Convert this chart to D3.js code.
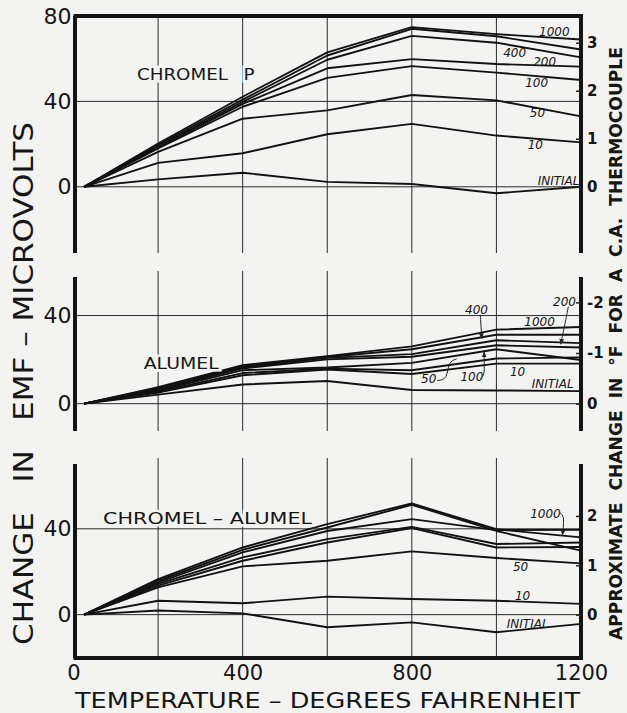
<!DOCTYPE html>
<meta charset="utf-8" />
<style>
  body { margin: 0; background: #f3f3f1; }
  svg { display: block; }
  text { font-family: "DejaVu Sans", Arial, sans-serif; fill: #161616; }
  .grid { stroke: #2b2b2b; stroke-width: 1; }
  .border { stroke: #141414; stroke-width: 4; }
  .curve { fill: none; stroke: #121212; stroke-width: 1.9; stroke-linejoin: round; }
  .tag { font-style: italic; font-size: 12px; }
  .name { font-size: 16px; paint-order: stroke; stroke: #f3f3f1; stroke-width: 5px; }
  .leader { fill: none; stroke: #222; stroke-width: 1; }
  .laxis text { font-size: 22px; }
  .raxis text { font-size: 15px; font-weight: bold; }
  .baxis text { font-size: 21px; }
</style>
<body>
<script src="https://d3js.org/d3.v7.min.js"></script>
<script>
  // temperatures (deg F) where the curves were read
  var temps = [25, 200, 400, 600, 800, 1000, 1200];
  // exposure in hours, one entry per row below (7th curve has no label in the figure)
  var hours = ["INITIAL", "10", "50", "100", "200", "400", "", "1000"];

  // change in emf, microvolts
  var chromelP = [
    [0, 3.5, 6.6, 2.3, 1.3, -3.0, 0.0],
    [0, 11.2, 15.7, 24.6, 29.5, 24.0, 20.8],
    [0, 16.4, 31.9, 35.8, 43.0, 40.5, 33.0],
    [0, 18.0, 37.5, 51.0, 56.5, 53.5, 50.0],
    [0, 18.5, 38.8, 55.5, 59.8, 57.5, 56.3],
    [0, 19.0, 39.8, 59.5, 70.7, 67.5, 60.6],
    [0, 19.6, 40.8, 61.5, 74.0, 70.5, 64.3],
    [0, 20.3, 42.2, 63.0, 74.8, 71.5, 69.0]
  ];
  var alumel = [
    [0, 4.1, 8.7, 10.3, 6.2, 6.0, 5.7],
    [0, 5.0, 12.9, 15.5, 13.5, 18.2, 18.2],
    [0, 5.4, 13.9, 15.9, 15.2, 20.5, 21.0],
    [0, 5.8, 15.2, 16.4, 18.5, 24.7, 19.8],
    [0, 6.3, 16.0, 20.1, 21.3, 26.5, 25.5],
    [0, 6.8, 16.4, 20.8, 22.5, 28.8, 27.5],
    [0, 7.2, 17.0, 21.2, 24.7, 31.3, 31.3],
    [0, 7.5, 17.5, 21.6, 26.0, 33.6, 34.8]
  ];
  var chromelAlumel = [
    [0, 1.9, 0.6, -5.9, -3.6, -8.2, -4.3],
    [0, 6.5, 5.3, 8.4, 7.3, 6.5, 5.0],
    [0, 12.7, 22.5, 25.1, 29.5, 26.4, 23.9],
    [0, 13.5, 25.1, 33.6, 40.3, 31.3, 31.5],
    [0, 14.3, 26.7, 35.2, 40.9, 32.9, 33.6],
    [0, 15.0, 29.0, 39.0, 44.5, 39.4, 39.5],
    [0, 15.8, 30.2, 40.6, 51.2, 39.0, 29.8],
    [0, 16.6, 31.3, 42.2, 51.8, 39.8, 36.0]
  ];

  var xTicks = [0, 400, 800, 1200];
  var gridTemps = [200, 400, 600, 800, 1000];

  var W = 627, H = 713, bg = "#f3f3f1";
  var svg = d3.select("body").append("svg").attr("width", W).attr("height", H);
  svg.append("rect").attr("width", W).attr("height", H).attr("fill", bg);

  var defs = svg.append("defs");
  defs.append("marker").attr("id", "arrow")
    .attr("viewBox", "0 0 10 10").attr("refX", 9).attr("refY", 5)
    .attr("markerWidth", 6).attr("markerHeight", 6).attr("orient", "auto")
    .append("path").attr("d", "M0,1 L10,5 L0,9 z").attr("fill", "#222");

  var x = d3.scaleLinear().domain([0, 1200]).range([73.5, 581]);

  var panels = [
    { rows: chromelP, y: d3.scaleLinear().domain([-31, 80]).range([253, 16]),
      left: [0, 40, 80], right: [0, 1, 2, 3], perF: 22.5 },
    { rows: alumel, y: d3.scaleLinear().domain([-12.4, 57.5]).range([431, 277]),
      left: [0, 40], right: [0, -1, -2], perF: -23 },
    { rows: chromelAlumel, y: d3.scaleLinear().domain([-20.2, 70.2]).range([658, 464]),
      left: [0, 40], right: [0, 1, 2], perF: 23 }
  ];

  panels.forEach(function (p, k) {
    var y = p.y, g = svg.append("g");
    var top = y.range()[1], bottom = y.range()[0];

    // vertical grid, reaching a little above the lower panels
    g.selectAll(".vg").data(gridTemps).enter().append("line")
      .attr("class", "grid")
      .attr("x1", d => x(d)).attr("x2", d => x(d))
      .attr("y1", k === 0 ? top : top - 6).attr("y2", bottom);

    // horizontal grid at 0 and 40
    g.selectAll(".hg").data([0, 40]).enter().append("line")
      .attr("class", "grid")
      .attr("x1", x(0)).attr("x2", x(1200))
      .attr("y1", d => y(d)).attr("y2", d => y(d));

    var line = d3.line().x((d, i) => x(temps[i])).y(d => y(d));
    g.selectAll(".curve").data(p.rows).enter().append("path")
      .attr("class", "curve").attr("d", line);

    // heavy frame pieces
    g.append("line").attr("class", "border")
      .attr("x1", x(0) + 1.5).attr("x2", x(0) + 1.5).attr("y1", top).attr("y2", bottom);
    g.append("line").attr("class", "border")
      .attr("x1", x(1200)).attr("x2", x(1200)).attr("y1", top).attr("y2", bottom);
    if (k === 0) {
      g.append("line").attr("class", "border")
        .attr("x1", x(0)).attr("x2", x(1200) + 2).attr("y1", y(80)).attr("y2", y(80));
    }
    if (k === 2) {
      g.append("line").attr("class", "border")
        .attr("x1", x(0)).attr("x2", x(1200) + 2).attr("y1", bottom).attr("y2", bottom);
    }

    // left microvolt labels
    g.append("g").attr("class", "laxis")
      .attr("transform", "translate(" + x(0) + ",0)")
      .call(d3.axisLeft(y).tickValues(p.left).tickSize(0).tickPadding(2))
      .call(a => a.select(".domain").remove());

    // right deg F labels
    var yF = d3.scaleLinear()
      .domain(y.domain().map(v => v / p.perF)).range(y.range());
    g.append("g").attr("class", "raxis")
      .attr("transform", "translate(" + x(1200) + ",0)")
      .call(d3.axisRight(yF).tickValues(p.right).tickSize(-5).tickPadding(6)
        .tickFormat(d => String(d)))
      .call(a => a.select(".domain").remove())
      .call(a => a.selectAll("line").attr("stroke", "#222").attr("stroke-width", 1.5));
  });

  // bottom temperature labels
  var p3 = panels[2];
  svg.append("g").attr("class", "baxis")
    .attr("transform", "translate(0," + p3.y.range()[0] + ")")
    .call(d3.axisBottom(x).tickValues(xTicks).tickSize(0).tickPadding(7)
      .tickFormat(d => String(d)))
    .call(a => a.select(".domain").remove());

  // panel names
  function name(p, label, t, v, len) {
    svg.append("text").attr("class", "name")
      .attr("x", x(t)).attr("y", p.y(v)).attr("dy", "0.36em")
      .attr("textLength", len).attr("lengthAdjust", "spacingAndGlyphs")
      .text(label);
  }
  name(panels[0], "CHROMEL", 150, 52.8, 91);
  name(panels[0], "P", 402, 52.8, 11);
  name(panels[1], "ALUMEL", 166, 18.5, 75);
  name(panels[2], "CHROMEL \u2013 ALUMEL", 70, 44.7, 209);

  // curve tags, in data units of each panel
  var tags = [
    [0, "1000", 1137, 72.5], [0, "400", 1043, 63], [0, "200", 1114, 58.5],
    [0, "100", 1095, 48.9], [0, "50", 1097, 34.8], [0, "10", 1092, 19.6],
    [0, "INITIAL", 1147, 2.7],
    [1, "400", 953, 42.8], [1, "1000", 1102, 37.2], [1, "200", 1161, 46.4],
    [1, "50", 840, 11.5], [1, "100", 942, 12.4], [1, "10", 1050, 14.3],
    [1, "INITIAL", 1133, 9.2],
    [2, "1000", 1116, 47], [2, "50", 1057, 22.3], [2, "10", 1062, 8.8],
    [2, "INITIAL", 1074, -4.2]
  ];
  svg.selectAll(".tag").data(tags).enter().append("text")
    .attr("class", "tag").attr("text-anchor", "middle").attr("dy", "0.36em")
    .attr("x", d => x(d[2])).attr("y", d => panels[d[0]].y(d[3]))
    .text(d => d[1]);

  // leaders from tags to their curves
  var leaders = [
    [1, [[962, 40.3], [964, 34], [965, 29.5]], true],
    [1, [[1170, 44], [1164, 38], [1152, 27]], true],
    [1, [[860, 10.5], [884, 11], [886, 19], [906, 20.3]], false],
    [1, [[962, 11.5], [972, 13], [971, 19], [971, 23.5]], true],
    [2, [[1150, 47.5], [1160, 46], [1158, 40], [1156, 37]], true]
  ];
  leaders.forEach(function (l) {
    var y = panels[l[0]].y;
    svg.append("path").attr("class", "leader")
      .attr("d", d3.line().curve(d3.curveBasis).x(d => x(d[0])).y(d => y(d[1]))(l[1]))
      .attr("marker-end", l[2] ? "url(#arrow)" : null);
  });

  // axis titles
  svg.append("text")
    .attr("x", 75).attr("y", 708)
    .attr("font-size", 22)
    .attr("textLength", 505).attr("lengthAdjust", "spacingAndGlyphs")
    .text("TEMPERATURE \u2013 DEGREES  FAHRENHEIT");

  svg.append("text")
    .attr("transform", "translate(33,645) rotate(-90)")
    .attr("font-size", 27).style("white-space", "pre")
    .attr("textLength", 523).attr("lengthAdjust", "spacingAndGlyphs")
    .text("CHANGE   IN   EMF \u2013 MICROVOLTS");

  svg.append("text")
    .attr("transform", "translate(622,640) rotate(-90)")
    .attr("font-size", 17.5).attr("font-weight", "bold").style("white-space", "pre")
    .attr("textLength", 593).attr("lengthAdjust", "spacingAndGlyphs")
    .text("APPROXIMATE  CHANGE  IN  \u00b0F  FOR  A  C.A.  THERMOCOUPLE");
</script>
</body>
